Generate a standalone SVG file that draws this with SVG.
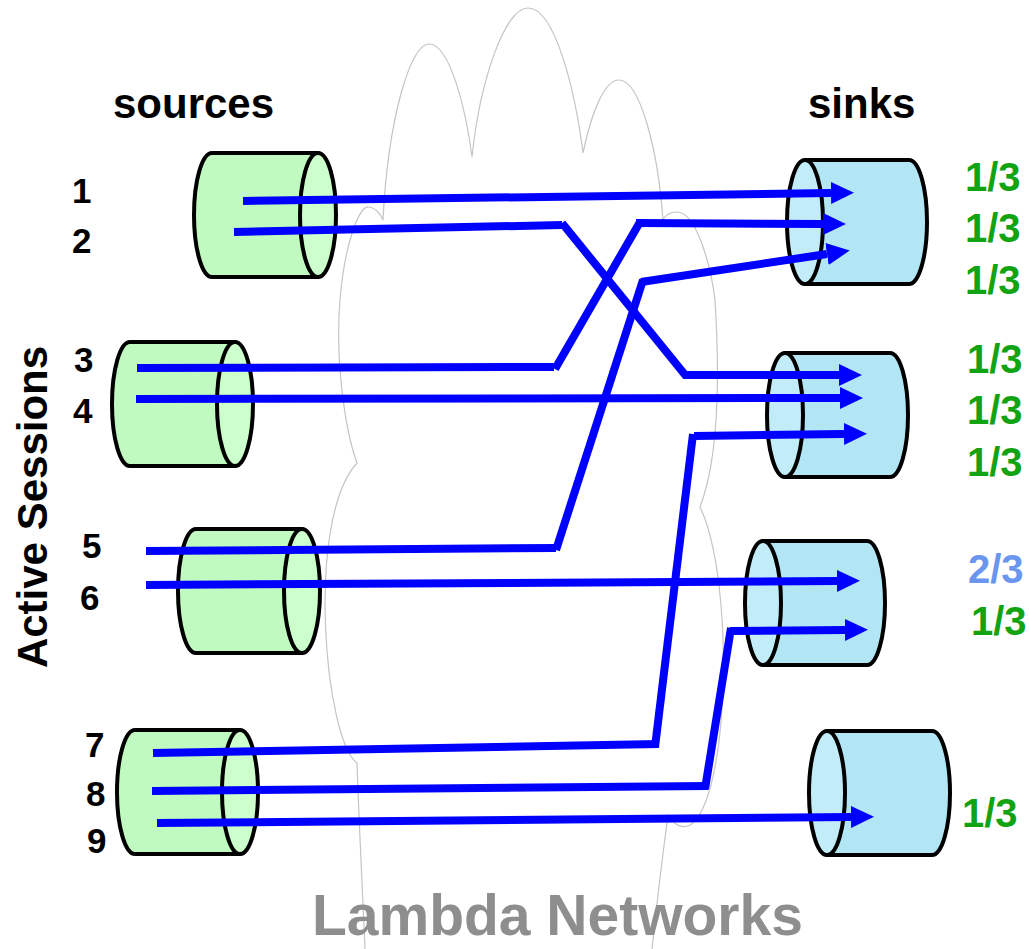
<svg xmlns="http://www.w3.org/2000/svg" width="1029" height="949" viewBox="0 0 1029 949">
  <style>
    .cloud { fill: none; stroke: #c4c4c4; stroke-width: 1.2; }
    .src-body { fill: #c0fac0; stroke: #000; stroke-width: 4; stroke-linejoin: round; }
    .src-face { fill: #ccffcc; stroke: #000; stroke-width: 4; }
    .snk-body { fill: #b3e6f5; stroke: #000; stroke-width: 4; stroke-linejoin: round; }
    .snk-face { fill: #c2ecf8; stroke: #000; stroke-width: 4; }
    .flow { fill: none; stroke: #0000ff; stroke-width: 8; stroke-linecap: butt; }
    .head { marker-end: url(#arrow); }
    .lbl { font-family: "Liberation Sans", Arial, sans-serif; font-weight: bold; fill: #000; }
    .num { font-size: 35px; }
    .title { font-size: 42px; }
    .frac { font-family: "Liberation Sans", Arial, sans-serif; font-weight: bold; font-size: 40px; fill: #12a312; }
    .frac-alt { fill: #6a96f0; }
  </style>
  <defs>
    <marker id="arrow" viewBox="0 0 23 22" refX="0" refY="11" markerWidth="23" markerHeight="22" markerUnits="userSpaceOnUse" orient="auto">
      <path d="M0,0 L23,11 L0,22 Z" fill="#0000ff"/>
    </marker>
  </defs>

  <rect width="1029" height="949" fill="#ffffff"/>

  <!-- network cloud outline -->
  <path id="cloud" class="cloud" d="M365,949 C362,880 358,800 357,763 C325,740 305,520 357,463 C345,430 335,360 340,300 C345,240 360,205 369,207 C376,208 381,215 383,220 C388,120 410,44 429,44 C450,44 466,110 472,157 C480,80 505,8 528,8 C555,8 575,90 583,153 C592,110 605,80 619,80 C640,80 658,150 663,220 C666,214 672,212 677,212 C695,212 710,260 715,300 C720,380 718,460 700,507 C735,580 730,800 690,825 C680,830 672,822 668,815 C662,860 655,920 652,949"/>

  <!-- source cylinders -->
  <g id="source-a">
    <path class="src-body" d="M212,153 L318,153 L318,277 L212,277 A18,62 0 0 1 212,153 Z"/>
    <ellipse class="src-face" cx="318" cy="215" rx="18" ry="62"/>
  </g>
  <g id="source-b">
    <path class="src-body" d="M130,342 L235,342 L235,466 L130,466 A18,62 0 0 1 130,342 Z"/>
    <ellipse class="src-face" cx="235" cy="404" rx="18" ry="62"/>
  </g>
  <g id="source-c">
    <path class="src-body" d="M196,529 L302,529 L302,653 L196,653 A18,62 0 0 1 196,529 Z"/>
    <ellipse class="src-face" cx="302" cy="591" rx="18" ry="62"/>
  </g>
  <g id="source-d">
    <path class="src-body" d="M135,730 L240,730 L240,854 L135,854 A18,62 0 0 1 135,730 Z"/>
    <ellipse class="src-face" cx="240" cy="792" rx="18" ry="62"/>
  </g>

  <!-- sink cylinders -->
  <g id="sink-a">
    <path class="snk-body" d="M805,160 L909,160 A18,62 0 0 1 909,284 L805,284 Z"/>
    <ellipse class="snk-face" cx="805" cy="222" rx="18" ry="62"/>
  </g>
  <g id="sink-b">
    <path class="snk-body" d="M785,353 L890,353 A18,62 0 0 1 890,477 L785,477 Z"/>
    <ellipse class="snk-face" cx="785" cy="415" rx="18" ry="62"/>
  </g>
  <g id="sink-c">
    <path class="snk-body" d="M763,541 L867,541 A18,62 0 0 1 867,665 L763,665 Z"/>
    <ellipse class="snk-face" cx="763" cy="603" rx="18" ry="62"/>
  </g>
  <g id="sink-d">
    <path class="snk-body" d="M827,731 L932,731 A18,62 0 0 1 932,855 L827,855 Z"/>
    <ellipse class="snk-face" cx="827" cy="793" rx="18" ry="62"/>
  </g>

  <!-- session paths -->
  <g id="connectors">
    <line class="flow head" x1="243" y1="201" x2="831" y2="193"/>
    <line class="flow" x1="234" y1="232" x2="562" y2="225"/>
    <line class="flow" x1="562" y1="223" x2="686" y2="376"/>
    <line class="flow head" x1="683" y1="375" x2="839" y2="375"/>
    <line class="flow" x1="137" y1="368" x2="554" y2="367"/>
    <line class="flow" x1="555" y1="369" x2="640" y2="222"/>
    <line class="flow head" x1="636" y1="223" x2="823" y2="224"/>
    <line class="flow head" x1="136" y1="399" x2="840" y2="398"/>
    <line class="flow" x1="146" y1="551" x2="556" y2="548"/>
    <line class="flow" x1="556" y1="550" x2="643" y2="280"/>
    <line class="flow head" x1="641" y1="282" x2="827" y2="254"/>
    <line class="flow head" x1="146" y1="585" x2="837" y2="581"/>
    <line class="flow" x1="153" y1="753" x2="659" y2="744"/>
    <line class="flow" x1="655" y1="747" x2="693" y2="434"/>
    <line class="flow head" x1="694" y1="436" x2="844" y2="434"/>
    <line class="flow" x1="152" y1="791" x2="708" y2="786"/>
    <line class="flow" x1="705" y1="789" x2="731" y2="628"/>
    <line class="flow head" x1="730" y1="631" x2="845" y2="630"/>
    <line class="flow head" x1="157" y1="823" x2="851" y2="817"/>
  </g>

  <!-- labels -->
  <g id="headings">
    <text class="lbl title" x="113" y="118">sources</text>
    <text class="lbl title" x="808" y="118">sinks</text>
    <text class="lbl title" transform="translate(47,507) rotate(-90)" text-anchor="middle">Active Sessions</text>
  </g>
  <g id="session-numbers">
    <text class="lbl num" x="72" y="203">1</text>
    <text class="lbl num" x="72" y="253">2</text>
    <text class="lbl num" x="74" y="372">3</text>
    <text class="lbl num" x="73" y="423">4</text>
    <text class="lbl num" x="82" y="558">5</text>
    <text class="lbl num" x="80" y="610">6</text>
    <text class="lbl num" x="85" y="757">7</text>
    <text class="lbl num" x="86" y="806">8</text>
    <text class="lbl num" x="87" y="853">9</text>
  </g>
  <g id="shares">
    <text class="frac" x="965" y="191">1/3</text>
    <text class="frac" x="965" y="242">1/3</text>
    <text class="frac" x="965" y="294">1/3</text>
    <text class="frac" x="967" y="373">1/3</text>
    <text class="frac" x="967" y="424">1/3</text>
    <text class="frac" x="967" y="476">1/3</text>
    <text class="frac frac-alt" x="968" y="583">2/3</text>
    <text class="frac" x="971" y="635">1/3</text>
    <text class="frac" x="962" y="827">1/3</text>
  </g>
  <text id="network-label" x="312" y="935" font-family="Liberation Sans, Arial, sans-serif" font-weight="bold" font-size="57" fill="#8e8e8e">Lambda Networks</text>
</svg>
